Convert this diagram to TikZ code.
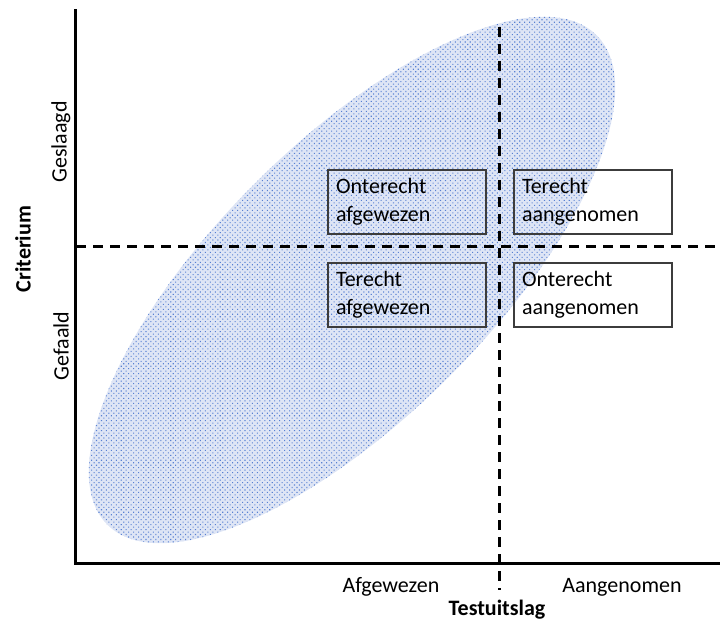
\documentclass[tikz,border=0pt]{standalone}
\usepackage{fontspec}
\setmainfont{Carlito}
\usetikzlibrary{patterns.meta}
\definecolor{dotblue}{RGB}{88,128,210}
\definecolor{ellbg}{RGB}{222,229,245}
\definecolor{boxline}{RGB}{60,60,60}

\begin{document}
\begin{tikzpicture}[x=1pt,y=-1pt]
\tikzstyle{every node}=[font=\fontsize{22}{28}\selectfont, inner sep=0pt]
\tikzstyle{axis}=[line width=3pt, line cap=rect]
\tikzstyle{split}=[line width=3pt, dash pattern=on 10pt off 7pt]
\tikzstyle{cell}=[draw=boxline, line width=1.4pt, text width=142pt,
	inner xsep=8pt, inner ysep=4pt, minimum height=64pt, align=left]
\tikzstyle{heading}=[font=\fontsize{22}{26}\selectfont\bfseries]
\useasboundingbox (0,0) rectangle (720,636);
\coordinate (origin) at (75,563);
\coordinate (ytop) at (75,11);
\coordinate (xend) at (720,563);
\coordinate (vtop) at (499,27);
\coordinate (vbot) at (499,590);
\coordinate (hleft) at (76,247);
\coordinate (hright) at (720,247);
\fill[preaction={fill=ellbg}, pattern={Dots[distance=3.5pt, radius=0.75pt, angle=45]},
	pattern color=dotblue, rotate around={45:(352,280)}]
	(352,280) ellipse [x radius=346, y radius=137];
\draw[axis] (ytop) -- (origin) -- (xend);
\draw[split] (vtop) -- (vbot);
\draw[split] (hleft) -- (hright);
\node[cell] (oa) at (407,202) {Onterecht\\afgewezen};
\node[cell] (ta) at (593,202) {Terecht\\aangenomen};
\node[cell] (tw) at (407,295) {Terecht\\afgewezen};
\node[cell] (on) at (593,295) {Onterecht\\aangenomen};
\node[anchor=base] (afg) at (391,592) {Afgewezen};
\node[anchor=base] (aan) at (622,592) {Aangenomen};
\node[heading, anchor=base] (test) at (497,615) {Testuitslag};
\node[heading, rotate=90] (crit) at (23,249) {Criterium};
\node[rotate=90] (gesl) at (61,142) {Geslaagd};
\node[rotate=90] (gef) at (61,346) {Gefaald};
\end{tikzpicture}
\end{document}
